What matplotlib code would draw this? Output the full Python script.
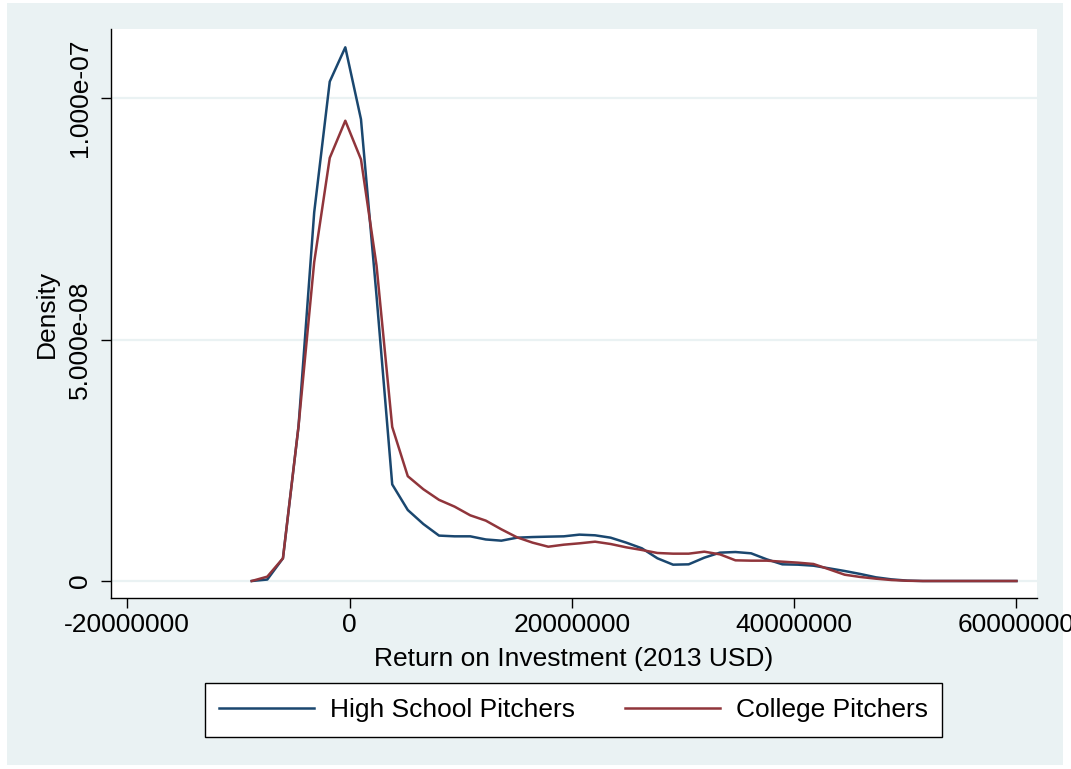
import numpy as np
import matplotlib
matplotlib.use("Agg")
import matplotlib.pyplot as plt
from matplotlib.patches import Rectangle

plt.rcParams['font.family'] = ['Liberation Sans', 'DejaVu Sans']

# kernel density grid, millions of 2013 USD
roi_musd = [-8.80, -7.40, -5.99, -4.59, -3.18, -1.78, -0.38, 1.03, 2.43, 3.84,
            5.24, 6.64, 8.05, 9.45, 10.86, 12.26, 13.66, 15.07, 16.47, 17.88,
            19.28, 20.68, 22.09, 23.49, 24.90, 26.30, 27.70, 29.11, 30.51, 31.92,
            33.32, 34.72, 36.13, 37.53, 38.94, 40.34, 41.74, 43.15, 44.55, 45.96,
            47.36, 48.76, 50.17, 51.57, 52.98, 54.38, 55.78, 57.19, 58.59, 60.00]

# densities in units of 1e-7
hs_density = [0.000, 0.003, 0.047, 0.320, 0.763, 1.034, 1.105, 0.956, 0.590, 0.200,
              0.147, 0.118, 0.094, 0.0925, 0.0925, 0.086, 0.0835, 0.0897, 0.091, 0.0918,
              0.0925, 0.096, 0.0946, 0.0897, 0.0794, 0.0677, 0.047, 0.0338, 0.0345, 0.0483,
              0.0587, 0.060, 0.0573, 0.0449, 0.0345, 0.0338, 0.0317, 0.0262, 0.0207, 0.0145,
              0.0076, 0.0034, 0.0008, 0.0, 0.0, 0.0, 0.0, 0.0, 0.0, 0.0]
col_density = [0.000, 0.009, 0.047, 0.320, 0.660, 0.876, 0.953, 0.873, 0.653, 0.319,
               0.217, 0.190, 0.168, 0.154, 0.136, 0.125, 0.107, 0.0904, 0.0794, 0.071,
               0.0752, 0.078, 0.0814, 0.0766, 0.0697, 0.0642, 0.058, 0.0566, 0.0566, 0.0607,
               0.0552, 0.0428, 0.0421, 0.0421, 0.040, 0.038, 0.0352, 0.0242, 0.013, 0.0083,
               0.0048, 0.002, 0.0005, 0.0, 0.0, 0.0, 0.0, 0.0, 0.0, 0.0]

series_names = ["High School Pitchers", "College Pitchers"]
x_ticks = [-20000000, 0, 20000000, 40000000, 60000000]
y_ticks = [0, 5e-8, 1e-7]
y_ticklabels = ["0", "5.000e-08", "1.000e-07"]

W, H = 1071, 769
fig = plt.figure(figsize=(W / 100, H / 100), dpi=100)
fig.patch.set_facecolor("white")
fig.add_artist(Rectangle((7 / W, 1 - 765 / H), (1063 - 7) / W, (765 - 3) / H,
                         transform=fig.transFigure, facecolor="#EAF2F3",
                         edgecolor="none", zorder=-1))

ax = fig.add_axes([111 / W, 1 - 598 / H, (1037 - 111) / W, (598 - 29) / H])
ax.set_facecolor("white")

x = np.array(roi_musd) * 1e6
ax.plot(x, np.array(hs_density) * 1e-7, color="#1A476F", lw=1.8, label=series_names[0])
ax.plot(x, np.array(col_density) * 1e-7, color="#90353B", lw=1.8, label=series_names[1])

ax.set_xlim(-21.46e6, 61.85e6)
ax.set_ylim(-0.0352e-7, 1.1429e-7)

ax.set_xticks(x_ticks)
ax.set_xticklabels([str(v) for v in x_ticks])
ax.set_yticks(y_ticks)
ax.set_yticklabels(y_ticklabels, rotation=90, va="center")

for y in y_ticks:
    ax.axhline(y, color="#EAF2F3", lw=1.6, zorder=0)

for s in ["top", "right"]:
    ax.spines[s].set_visible(False)
for s in ["left", "bottom"]:
    ax.spines[s].set_linewidth(1.0)
    ax.spines[s].set_color("black")

ax.tick_params(axis="both", labelsize=19, direction="out", length=7, width=1)
ax.tick_params(axis="y", pad=7)
ax.tick_params(axis="x", pad=4)

ax.set_xlabel("Return on Investment (2013 USD)", fontsize=19, labelpad=7)
ax.set_ylabel("Density", fontsize=19, labelpad=6)

leg = fig.legend(loc="center", bbox_to_anchor=(573.5 / W, 1 - 710 / H), ncol=2,
                 fontsize=19, frameon=True, fancybox=False, framealpha=1,
                 edgecolor="black", handlelength=3.6, handletextpad=0.6,
                 columnspacing=1.9, borderpad=0.55, borderaxespad=0)
leg.get_frame().set_linewidth(1.0)

fig.savefig("out.png", dpi=100)
